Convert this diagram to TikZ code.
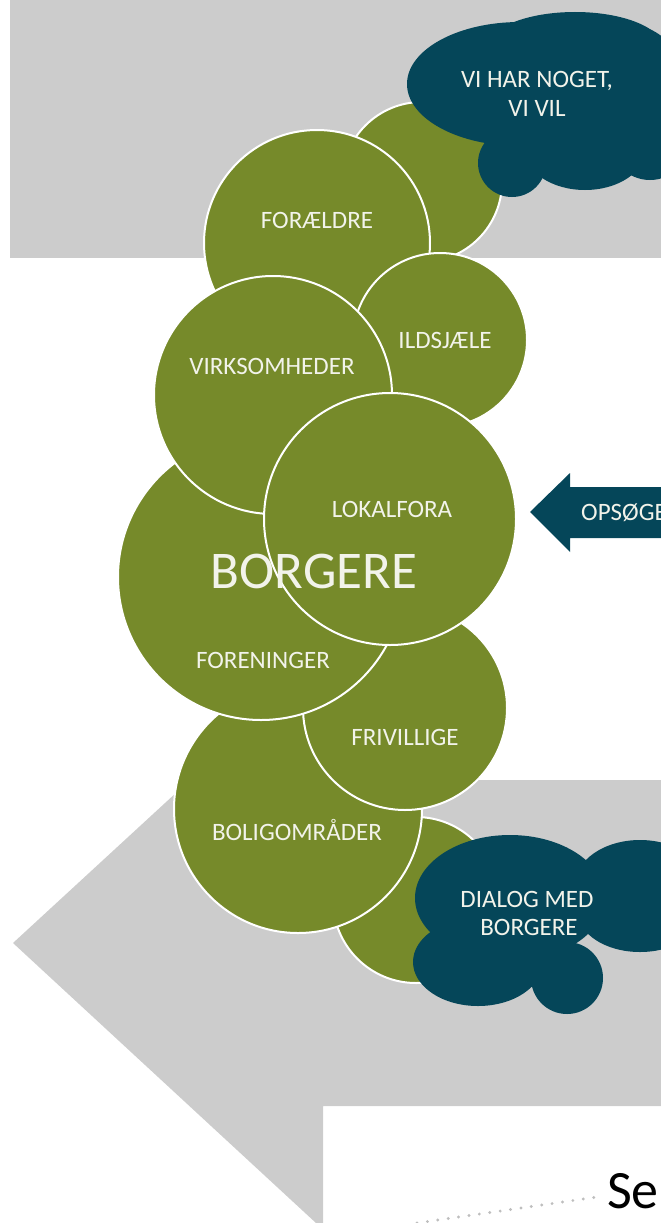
\documentclass[tikz,border=0pt]{standalone}
\usepackage{fontspec}
\setmainfont{Carlito}
\definecolor{greenc}{RGB}{118,138,42}
\definecolor{tealc}{RGB}{5,70,89}
\definecolor{grayc}{RGB}{204,204,204}
\definecolor{labelc}{RGB}{242,243,234}
\definecolor{dotc}{RGB}{190,190,190}
\begin{document}
\begin{tikzpicture}[x=1pt,y=-1pt,
  gc/.style={circle, fill=greenc, draw=white, line width=2pt, inner sep=0pt, outer sep=0pt},
  lbl/.style={text=labelc, font=\fontsize{25}{29}\selectfont, inner sep=0pt, anchor=base},
  biglbl/.style={text=labelc, font=\fontsize{53}{53}\selectfont, inner sep=0pt, anchor=base},
  dotline/.style={draw=dotc, line width=3.2pt, line cap=round, dash pattern=on 0pt off 10.5pt}]
\useasboundingbox (0,0) rectangle (661,1223);
% gray backgrounds
\fill[grayc] (10,0) rectangle (661,258);
\fill[grayc] (190,780) -- (661,780) -- (661,1106) -- (323,1106) -- (323,1223) -- (316,1223) -- (13,943) -- cycle;
% circles, back to front
\node[gc, minimum size=166pt] (c9) at (416,900) {};
\node[gc, minimum size=248pt] (cbolig) at (298,809) {};
\node[gc, minimum size=204pt] (cfriv) at (405,708) {};
\node[gc, minimum size=286pt] (cborg) at (261,577) {};
\node[gc, minimum size=160pt] (c1) at (422,182) {};
\node[gc, minimum size=226pt] (cfor) at (317,243) {};
\node[gc, minimum size=174pt] (cild) at (440,340) {};
\node[gc, minimum size=238pt] (cvirk) at (273,395) {};
\node[gc, minimum size=252pt] (clok) at (390,519) {};
% top cloud
\fill[tealc] (520,84) ellipse [x radius=113pt, y radius=62pt];
\fill[tealc] (575,48) ellipse [x radius=88pt, y radius=36pt];
\fill[tealc] (512,163) circle [radius=34pt];
\fill[tealc] (585,150) ellipse [x radius=60pt, y radius=40pt];
\fill[tealc] (630,100) ellipse [x radius=60pt, y radius=75pt];
\fill[tealc] (650,140) circle [radius=40pt];
% bottom cloud
\fill[tealc] (510,898) ellipse [x radius=95pt, y radius=63pt];
\fill[tealc] (478,962) ellipse [x radius=65pt, y radius=44pt];
\fill[tealc] (567,978) circle [radius=36pt];
\fill[tealc] (640,885) ellipse [x radius=65pt, y radius=45pt];
\fill[tealc] (640,912) ellipse [x radius=62pt, y radius=40pt];
% arrow
\fill[tealc] (530,512) -- (570,473) -- (570,487) -- (661,487) -- (661,538) -- (570,538) -- (570,552) -- cycle;
% labels
\node[lbl] (tfor) at (317,228) {FORÆLDRE};
\node[lbl] (tild) at (445,348) {ILDSJÆLE};
\node[lbl] (tvirk) at (272,374) {VIRKSOMHEDER};
\node[lbl] (tlok) at (392,517) {LOKALFORA};
\node[biglbl] (tborg) at (314,588) {BORGERE};
\node[lbl] (tfore) at (263,668) {FORENINGER};
\node[lbl] (tfriv) at (405,745) {FRIVILLIGE};
\node[lbl] (tbolig) at (297,840) {BOLIGOMRÅDER};
\node[lbl] (tvi1) at (537,87) {VI HAR NOGET,};
\node[lbl] (tvi2) at (537,116) {VI VIL};
\node[lbl] (tdia1) at (527,907) {DIALOG MED};
\node[lbl] (tdia2) at (529,935) {BORGERE};
\node[lbl, anchor=base west] (tops) at (581,520) {OPSØGE};
% bottom
\coordinate (d1) at (417,1223);
\coordinate (d2) at (604,1196);
\draw[dotline] (d1) -- (d2);
\node[font=\fontsize{54}{54}\selectfont, inner sep=0pt, anchor=base west] (se) at (607,1208) {Se};
\end{tikzpicture}
\end{document}
